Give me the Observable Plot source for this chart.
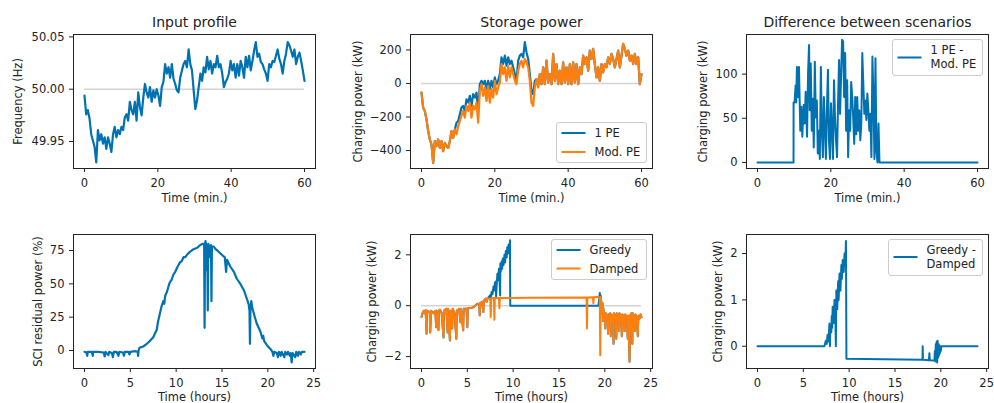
<!DOCTYPE html>
<html>
<head>
<meta charset="utf-8">
<script src="https://cdn.jsdelivr.net/npm/d3@7"></script>
<script src="https://cdn.jsdelivr.net/npm/@observablehq/plot@0.6"></script>
<style>
  body { margin: 0; background: #fff; }
  #fig { position: relative; width: 994px; height: 403px; overflow: hidden; background: #fff; }
  .panel { position: absolute; }
</style>
</head>
<body>
<div id="fig"></div>
<script>
// ---------------- DATA ----------------
// Panel 1: grid frequency (Hz), evenly sampled over 60 minutes
const freqHz = [
  49.994,49.976,49.980,49.972,49.957,49.951,49.945,49.930,49.961,49.951,
  49.957,49.948,49.954,49.943,49.954,49.948,49.940,49.957,49.964,49.954,
  49.961,49.957,49.964,49.961,49.973,49.976,49.970,49.988,49.980,49.976,
  49.988,49.970,49.997,49.983,49.975,49.992,50.005,49.997,49.992,50.002,
  49.988,49.999,49.992,50.000,49.994,49.984,50.002,50.007,50.024,50.015,
  50.021,50.011,50.024,50.010,50.005,49.999,49.997,50.011,50.018,50.024,
  50.027,50.021,50.038,50.024,50.018,49.999,49.981,49.989,50.002,50.015,
  50.008,50.021,50.016,50.031,50.019,50.027,50.015,50.024,50.021,50.032,
  50.021,50.024,50.015,50.002,50.007,50.010,50.015,50.027,50.018,50.024,
  50.011,50.024,50.013,50.027,50.021,50.011,50.031,50.021,50.032,50.018,
  50.027,50.037,50.045,50.031,50.034,50.026,50.024,50.019,50.015,50.008,
  50.024,50.021,50.027,50.026,50.032,50.038,50.029,50.024,50.015,50.027,
  50.034,50.045,50.042,50.037,50.031,50.038,50.024,50.031,50.035,50.027,
  50.018,50.008
];
const nominalFreq = 50;

// Panel 2: storage charging power (kW), evenly sampled over 60 minutes.
// Both scenarios coincide outside the middle window.
const storageStart = [-54,-144,-164,-214,-284,-334,-364,-474,-344,-374,-334,-384,-344,-404,-354,-374,-384,-344,-284,-324,-274];
const modPEMid = [-304,-254,-224,-194,-164,-204,-134,-164,-114,-204,
  -134,-154,-114,-234,-44,-4,-74,-24,-104,-14,
  -114,-34,-84,16,-64,-24,6,116,56,96,
  16,106,36,96,56,16,-4,76,116,136,
  96,146,126,96,16,-114,-134,-24,26,-24];
const onePEMid = [-234,-224,-184,-144,-134,-164,-94,-114,-74,-134,
  -64,-84,-54,-164,-4,16,-4,16,-34,16,
  -34,16,-24,36,-4,16,56,156,116,166,
  106,156,116,136,96,56,16,136,166,176,
  156,246,186,146,56,-44,-64,16,26,-14];
const storageEnd = [56,-4,96,-4,136,6,56,-4,176,16,
  116,-4,76,-4,126,6,96,-4,116,-4,
  126,6,116,-4,96,56,166,116,156,76,
  196,146,206,116,36,96,16,116,66,116,
  96,156,116,176,146,96,146,196,96,166,
  236,206,166,196,136,166,116,176,116,156,-4,56];

// Panel 3: 1 PE - Mod. PE (kW)
const diffMinTime = [0,9.83,9.84,
  10.11,10.39,10.57,10.75,11.03,11.31,11.67,11.95,12.22,12.59,12.87,13.14,13.51,13.79,14.06,
  14.25,14.52,14.80,15.07,15.35,15.63,15.90,16.18,16.45,16.73,
  17.00,17.28,17.56,17.83,18.11,18.38,18.66,18.93,19.21,19.49,
  19.76,20.04,20.31,20.59,20.86,21.14,21.42,21.69,21.97,22.24,
  22.52,22.79,23.07,23.35,23.62,23.90,24.17,24.45,24.72,25.00,
  25.28,25.55,25.83,26.10,26.38,26.65,26.93,27.21,27.48,27.76,
  28.03,28.31,28.58,28.86,29.14,29.41,29.69,29.96,30.24,30.51,
  30.79,31.07,31.34,31.62,31.89,32.17,32.44,32.72,33.00,33.27,60];
const diffMinValue = [0,0,68,
  68,87,68,108,74,108,36,63,29,65,44,80,29,101,133,
  59,112,36,72,17,114,51,70,10,36,
  4,108,36,6,74,40,4,59,105,25,
  4,67,36,4,93,51,25,6,67,116,
  55,97,139,137,74,124,36,93,6,59,
  36,91,74,51,21,74,32,74,36,59,
  25,44,124,89,55,70,48,78,59,36,
  55,6,120,74,4,118,13,0,44,0,0];

// Panel 4: SCI residual power (%) over 24 h
const sciTime = [0,0.2,0.3,0.35,0.8,0.9,0.95,1.5,2.1,2.2,2.3,2.6,2.7,3.0,3.1,3.2,3.5,3.7,3.8,4.2,4.3,4.4,4.8,4.9,5.0,5.5,5.8,5.85,5.9,
  6.0,6.4,6.8,7.1,7.5,7.7,7.9,8.0,8.2,8.4,8.6,8.7,8.8,9.0,9.2,9.3,9.5,9.7,9.9,10.1,10.4,10.6,10.8,11.0,11.2,11.5,11.9,12.3,12.6,12.9,
  13.05,13.1,13.15,13.2,13.3,13.35,13.4,13.45,13.5,13.6,13.7,13.8,13.85,13.9,14.1,14.3,14.5,14.8,15.1,15.3,15.45,15.55,15.9,16.3,16.6,
  17.0,17.4,17.7,17.9,18.0,18.05,18.1,18.2,18.3,18.5,18.8,19.2,19.4,19.5,19.6,19.9,20.3,20.5,20.6,20.7,21.0,21.1,21.2,21.4,21.5,21.8,
  21.9,22.1,22.2,22.4,22.5,22.6,22.7,23.0,23.1,23.3,23.4,23.6,23.7,24.0];
const sciValue = [-1,-1.5,-4,-1,-1,-4,-1,-1,-1.5,-4.5,-1,-3.5,-1,-2,-5,-1,-1,-4,-1,-1.5,-4,-1,-1,-3,-1,-0.5,-1,-4,0,
  2,3,5,7,10,13,16,21,27,33,37,35,41,44,49,51,53,57,59,62,66,67,70,70,72,74,76,77,79,80,
  80,17,80,82,78,60,79,30,80,78,70,79,37,78,78,76,75,73,71,70,59,68,63,59,54,
  50,45,39,35,30,5,31,37,32,27,20,14,9,11,7,4,1,-1,-4,-1,-2,-5,-1,-4,-1,-5,
  -1,-3,-1,-4,-2,-9,-2,-5,-1,-4,-1,-3,-1,-1];

// Panel 5: storage power (kW), Greedy vs Damped; both coincide in morning and evening
const morningTime = [0,0.1,0.25,0.35,0.45,0.55,0.6,0.9,0.95,1.05,1.3,1.5,1.6,1.65,1.85,1.9,2.0,2.2,2.4,2.45,2.7,2.85,2.9,3.1,3.15,3.35,3.4,3.6,3.8,3.85,
  4.1,4.25,4.3,4.55,4.6,4.9,5.0,5.05,5.5,5.7,5.9,6.1,6.3,6.35,6.4,6.6,6.75,6.8,7.0,7.1];
const morningValue = [-0.45,-0.3,-0.2,-0.3,-0.18,-1.1,-0.2,-0.25,-1.05,-0.2,-0.3,-0.2,-0.85,-0.2,-0.95,-0.2,-0.16,-0.3,-1.25,-0.2,-0.12,-1.05,-0.12,-1.37,-0.2,-0.9,-0.12,-0.3,-1.3,-0.2,
  -0.12,-0.65,-0.12,-0.97,-0.12,-0.12,-0.85,-0.1,-0.08,-0.05,0.02,0.08,0.05,-0.38,0.1,0.15,-0.25,0.2,0.28,0.15];
const greedyMidTime = [7.2,7.35,7.5,7.55,7.65,7.75,7.85,7.95,8.0,8.1,8.14,8.2,8.28,8.35,8.45,8.5,8.58,8.6,8.65,8.75,8.8,8.87,8.95,9.05,9.12,9.2,9.3,9.35,9.45,9.5,9.6,9.65,9.68,19.3,19.4,19.45,19.5,19.55,19.6];
const greedyMidValue = [0.28,0.35,0.42,0.3,0.55,0.45,0.75,0.6,0.88,0.95,0.34,0.8,1.26,1.0,1.45,1.15,0.4,1.66,1.35,1.75,1.45,1.86,1.6,2.0,1.7,2.15,1.9,2.3,2.05,2.4,2.2,2.57,0,0,0.3,0.5,0.2,0.4,0.2];
const dampedMidTime = [7.2,7.5,7.55,7.6,7.9,7.95,8.0,8.45,8.5,8.55,12,18.0,18.05,18.1,18.7,18.75,18.8,19.3,19.45,19.5,19.55,19.6];
const dampedMidValue = [0.3,0.25,-0.45,0.28,0.3,-0.55,0.3,0.3,-0.1,0.3,0.31,0.32,-0.9,0.32,0.33,0.1,0.33,0.35,0.3,-1.95,0.35,0.2];
const eveningTime = [19.7,19.75,19.8,19.85,19.9,20.0,20.05,20.1,20.3,20.35,20.4,20.6,20.65,20.7,20.9,20.95,21.0,21.2,21.25,21.3,21.5,21.55,21.6,21.8,21.85,21.9,
  22.1,22.15,22.2,22.4,22.5,22.55,22.7,22.75,22.9,23.0,23.05,23.2,23.3,23.35,23.5,23.6,23.65,23.8,23.9,24.0];
const eveningValue = [-0.3,0.1,-0.6,-0.1,-0.4,-0.3,-0.9,-0.3,-0.4,-1.1,-0.35,-0.3,-1.2,-0.4,-0.35,-1.5,-0.3,-0.5,-1.3,-0.3,-0.4,-1.0,-0.3,-0.5,-1.2,-0.35,
  -0.4,-1.0,-0.35,-0.4,-1.3,-0.4,-2.2,-0.4,-0.3,-1.5,-0.3,-0.45,-1.0,-0.35,-0.5,-1.2,-0.4,-0.5,-0.35,-0.45];

// Panel 6: Greedy - Damped (kW)
const diffHourTime = [0,7.3,7.45,7.55,7.65,7.75,7.85,7.9,7.95,8.05,8.1,8.15,8.2,8.3,8.4,8.5,8.55,8.6,8.7,8.8,8.85,8.95,9.05,9.15,9.2,9.3,9.4,9.5,9.58,9.65,9.7,
  18.0,18.02,18.05,18.7,18.75,18.8,19.3,19.35,19.4,19.45,19.5,19.55,19.6,19.65,19.7,19.75,19.8,19.85,19.9,19.95,20.0,20.05,24];
const diffHourValue = [0,0,0.12,0.05,0.25,0.1,0.49,0,0.45,0.3,0.65,0.4,0.85,0.5,1.0,0.6,0,1.2,0.8,1.4,1.0,1.57,1.2,1.75,1.45,1.86,1.6,2.0,1.75,2.27,-0.27,
  -0.29,0,-0.29,-0.3,-0.15,-0.3,-0.31,-0.1,-0.33,0.05,-0.3,0.1,-0.35,0.12,-0.25,0.05,-0.2,0.02,-0.15,0,-0.1,0,0];

// Ticks and labels
const minuteTicks = [0, 20, 40, 60];
const hourTicks = [0, 5, 10, 15, 20, 25];
const freqTicks = [49.95, 50.00, 50.05];
const storageTicks = [-400, -200, 0, 200];
const diffMinTicks = [0, 50, 100];
const sciTicks = [0, 25, 50, 75];
const powerTicks = [-2, 0, 2];
const diffHourTicks = [0, 1, 2];
const titles = ["Input profile", "Storage power", "Difference between scenarios"];
const topSeries = ["1 PE", "Mod. PE"];
const bottomSeries = ["Greedy", "Damped"];
const topDiffLabel = ["1 PE -", "Mod. PE"];
const bottomDiffLabel = ["Greedy -", "Damped"];

// ---------------- DERIVED (assembly only) ----------------
const freqTime = freqHz.map((_, i) => 60 * i / (freqHz.length - 1));
const modPE = [...storageStart, ...modPEMid, ...storageEnd];
const onePE = [...storageStart, ...onePEMid, ...storageEnd];
const storageTime = modPE.map((_, i) => 60 * i / (modPE.length - 1));
const dampedTime = [...morningTime, ...dampedMidTime, ...eveningTime];
const dampedValue = [...morningValue, ...dampedMidValue, ...eveningValue];
const greedyTime = [...morningTime, ...greedyMidTime, ...eveningTime];
const greedyValue = [...morningValue, ...greedyMidValue, ...eveningValue];

// ---------------- STYLE ----------------
const BLUE = "#0072b2", ORANGE = "#ff7f0e", GREY = "#d3d3d3", INK = "#222222";
const FONT = "'DejaVu Sans', sans-serif";
const LW = 2;
const LWN = 2.2; // noisy series

function legendBox({corner, w, h, entries}) {
  return (index, scales, values, dims) => {
    const {width, height, marginTop, marginRight, marginBottom} = dims;
    const x0 = width - marginRight - 5.5 - w;
    const y0 = corner === "lower right" ? height - marginBottom - 5.5 - h : marginTop + 5.5;
    const g = d3.create("svg:g");
    g.append("rect").attr("x", x0).attr("y", y0).attr("width", w).attr("height", h).attr("rx", 2.5)
      .attr("fill", "white").attr("fill-opacity", 0.8).attr("stroke", "#cccccc").attr("stroke-width", 1);
    for (const e of entries) {
      g.append("line").attr("x1", x0 + 5).attr("x2", x0 + 29).attr("y1", y0 + e.y).attr("y2", y0 + e.y)
        .attr("stroke", e.color).attr("stroke-width", LW);
      e.lines.forEach((txt, i) => {
        g.append("text").attr("x", x0 + 38).attr("y", y0 + e.textY[i]).attr("dy", "0.35em")
          .attr("text-anchor", "start")
          .attr("fill", INK).attr("font-size", 11.5).text(txt);
      });
    }
    return g.node();
  };
}

function panel({left, top, width, height, mL, mR, mT, mB, xDomain, yDomain, xTicks, yTicks, yFormat,
                marks, title, xLabel, xLabelDy, yLabel, yLabelOffset, legend}) {
  const all = [
    Plot.axisX(xTicks, {tickSize: 4, tickPadding: 6, label: null, tickFormat: d3.format("d")}),
    Plot.axisY(yTicks, {tickSize: 4, tickPadding: 5, label: null, tickFormat: yFormat}),
    ...marks,
    Plot.frame({stroke: INK, strokeWidth: 1}),
    Plot.text([xLabel], {text: d => d, frameAnchor: "bottom", dy: xLabelDy, lineAnchor: "middle", textAnchor: "middle", fill: INK}),
    Plot.text([yLabel], {text: d => d, frameAnchor: "left", dx: -yLabelOffset, rotate: -90, lineAnchor: "middle", textAnchor: "middle", fill: INK})
  ];
  if (title) all.push(Plot.text([title], {text: d => d, frameAnchor: "top", dy: -7.7, lineAnchor: "bottom", textAnchor: "middle", fontSize: 14, fill: INK}));
  if (legend) all.push(legend);
  const svg = Plot.plot({
    width, height,
    marginLeft: mL, marginRight: mR, marginTop: mT, marginBottom: mB,
    style: {background: "transparent", fontFamily: FONT, fontSize: "11.5px", color: INK, overflow: "visible"},
    x: {domain: xDomain},
    y: {domain: yDomain},
    marks: all
  });
  const div = document.createElement("div");
  div.className = "panel";
  div.style.left = left + "px";
  div.style.top = top + "px";
  div.appendChild(svg);
  document.getElementById("fig").appendChild(div);
}

const fmtD = d3.format("d");
const TOP = {top: 0, height: 210, mT: 34, mB: 42, xLabelDy: 29.5};
const BOT = {top: 200, height: 203, mT: 34, mB: 35, xLabelDy: 28.5};
const COL = [
  {left: 0, width: 330, mL: 73, mR: 15},
  {left: 330, width: 330, mL: 80, mR: 8},
  {left: 658, width: 336, mL: 88, mR: 6}
];

// Panel 1
panel({...TOP, ...COL[0], xDomain: [-3, 63], yDomain: [49.9242, 50.0523],
  xTicks: minuteTicks, yTicks: freqTicks, yFormat: d3.format(".2f"),
  marks: [
    Plot.ruleY([nominalFreq], {x1: 0, x2: 60, stroke: GREY, strokeWidth: 1.6}),
    Plot.line(freqHz, {x: freqTime, y: freqHz, stroke: BLUE, strokeWidth: LWN})
  ],
  title: titles[0], xLabel: "Time (min.)", yLabel: "Frequency (Hz)", yLabelOffset: 55});

// Panel 2
panel({...TOP, ...COL[1], xDomain: [-3, 63], yDomain: [-507, 292],
  xTicks: minuteTicks, yTicks: storageTicks, yFormat: fmtD,
  marks: [
    Plot.ruleY([0], {x1: 0, x2: 60, stroke: GREY, strokeWidth: 1.6}),
    Plot.line(onePE, {x: storageTime, y: onePE, stroke: BLUE, strokeWidth: LWN}),
    Plot.line(modPE, {x: storageTime, y: modPE, stroke: ORANGE, strokeWidth: LWN})
  ],
  title: titles[1], xLabel: "Time (min.)", yLabel: "Charging power (kW)", yLabelOffset: 52,
  legend: legendBox({corner: "lower right", w: 90, h: 40, entries: [
    {color: BLUE, y: 10.5, lines: [topSeries[0]], textY: [10.5]},
    {color: ORANGE, y: 29.5, lines: [topSeries[1]], textY: [29.5]}
  ]})});

// Panel 3
panel({...TOP, ...COL[2], xDomain: [-3, 63], yDomain: [-6.9, 144.9],
  xTicks: minuteTicks, yTicks: diffMinTicks, yFormat: fmtD,
  marks: [
    Plot.line(diffMinValue, {x: diffMinTime, y: diffMinValue, stroke: BLUE, strokeWidth: LW})
  ],
  title: titles[2], xLabel: "Time (min.)", yLabel: "Charging power (kW)", yLabelOffset: 43,
  legend: legendBox({corner: "upper right", w: 90, h: 36, entries: [
    {color: BLUE, y: 18, lines: topDiffLabel, textY: [10.7, 24.3]}
  ]})});

// Panel 4
panel({...BOT, ...COL[0], xDomain: [-1.2, 25.2], yDomain: [-13.5, 87],
  xTicks: hourTicks, yTicks: sciTicks, yFormat: fmtD,
  marks: [
    Plot.line(sciValue, {x: sciTime, y: sciValue, stroke: BLUE, strokeWidth: LWN})
  ],
  xLabel: "Time (hours)", yLabel: "SCI residual power (%)", yLabelOffset: 35.5});

// Panel 5
panel({...BOT, ...COL[1], xDomain: [-1.2, 25.2], yDomain: [-2.47, 2.8],
  xTicks: hourTicks, yTicks: powerTicks, yFormat: fmtD,
  marks: [
    Plot.ruleY([0], {x1: 0, x2: 24, stroke: GREY, strokeWidth: 1.6}),
    Plot.line(greedyValue, {x: greedyTime, y: greedyValue, stroke: BLUE, strokeWidth: LW}),
    Plot.line(dampedValue, {x: dampedTime, y: dampedValue, stroke: ORANGE, strokeWidth: LW})
  ],
  xLabel: "Time (hours)", yLabel: "Charging power (kW)", yLabelOffset: 38,
  legend: legendBox({corner: "upper right", w: 95, h: 40, entries: [
    {color: BLUE, y: 10.5, lines: [bottomSeries[0]], textY: [10.5]},
    {color: ORANGE, y: 29, lines: [bottomSeries[1]], textY: [29]}
  ]})});

// Panel 6
panel({...BOT, ...COL[2], xDomain: [-1.2, 25.2], yDomain: [-0.48, 2.41],
  xTicks: hourTicks, yTicks: diffHourTicks, yFormat: fmtD,
  marks: [
    Plot.line(diffHourValue, {x: diffHourTime, y: diffHourValue, stroke: BLUE, strokeWidth: LW})
  ],
  xLabel: "Time (hours)", yLabel: "Charging power (kW)", yLabelOffset: 28,
  legend: legendBox({corner: "upper right", w: 94, h: 36, entries: [
    {color: BLUE, y: 17.5, lines: bottomDiffLabel, textY: [10.3, 24]}
  ]})});
</script>
</body>
</html>
